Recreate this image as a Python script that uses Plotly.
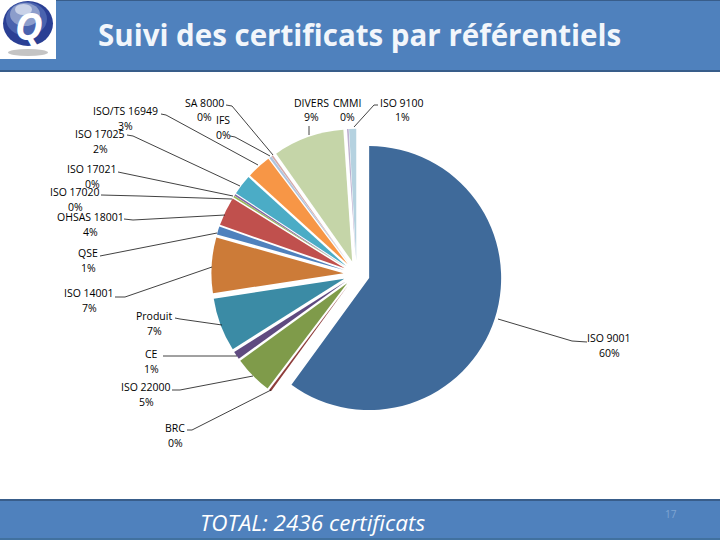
import plotly.graph_objects as go

W, H = 720, 540

referentiels = ["ISO 9001", "BRC", "ISO 22000", "CE", "Produit", "ISO 14001", "QSE", "OHSAS 18001",
                "ISO 17020", "ISO 17021", "ISO 17025", "ISO/TS 16949", "IFS", "SA 8000",
                "DIVERS", "CMMI", "ISO 9100"]
certificats = [1462, 7, 115, 24, 160, 165, 24, 86, 5, 5, 60, 73, 7, 5, 212, 5, 21]
couleurs = ["#3F6A9A", "#8E3D3A", "#7F9B4A", "#5F4A80", "#3B8BA5", "#CC7B38", "#4F81BD", "#C0504D",
            "#9BBB59", "#8064A2", "#4BACC6", "#F79646", "#AFC5DE", "#D3A9A8", "#C5D5A8", "#BDB0CF", "#B5D2E0"]

# Position du texte (centre, en pixels) : nom x, nom y
pos_labels = {
    "ISO 9001": (609, 338), "BRC": (175, 428), "ISO 22000": (146, 387), "CE": (151, 354),
    "Produit": (154, 316), "ISO 14001": (89, 293), "QSE": (88, 253), "OHSAS 18001": (90, 217),
    "ISO 17020": (75, 192), "ISO 17021": (92, 169), "ISO 17025": (100, 134), "ISO/TS 16949": (126, 111),
    "IFS": (223, 120), "SA 8000": (204, 103), "DIVERS": (311, 103), "CMMI": (347, 103), "ISO 9100": (402, 103),
}

# Traits de rappel (pixels)
traits = [
    [(587, 342), (572, 341), (498, 319)],
    [(187, 430), (192, 430), (271, 390)],
    [(172, 390), (180, 390), (253, 376)],
    [(163, 356), (237, 356)],
    [(175, 318), (180, 319), (222, 325)],
    [(115, 297), (125, 297), (212, 267)],
    [(100, 256), (217, 233)],
    [(124, 219), (133, 220), (225, 215)],
    [(101, 195), (140, 196), (232, 199)],
    [(118, 172), (233, 196)],
    [(127, 135), (133, 136), (240, 186)],
    [(161, 114), (166, 115), (258, 165)],
    [(230, 136), (235, 137), (270, 156)],
    [(226, 105), (232, 106), (273, 155)],
    [(309, 126), (309, 135)],
    [(378, 105), (374, 105), (354, 127)],
]


def px(x):
    return x / W


def py(y):
    return 1 - y / H


total = sum(certificats)
cx, cy, demi = 356.6, 274, 145.2

fig = go.Figure(go.Pie(
    labels=referentiels, values=certificats, sort=False, direction="clockwise", rotation=0,
    pull=[0.1] * len(certificats), textinfo="none", hoverinfo="label+percent",
    marker=dict(colors=couleurs, line=dict(width=0)), showlegend=False,
    domain=dict(x=[px(cx - demi), px(cx + demi)], y=[py(cy + demi), py(cy - demi)]),
))

shapes = []


def rect(x0, y0, x1, y1, fill, line=None, lw=0):
    shapes.append(dict(type="rect", xref="paper", yref="paper", x0=px(x0), x1=px(x1), y0=py(y1), y1=py(y0),
                       fillcolor=fill, line=dict(color=line or fill, width=lw), layer="below"))


def rond(x0, y0, x1, y1, fill):
    shapes.append(dict(type="circle", xref="paper", yref="paper", x0=px(x0), x1=px(x1), y0=py(y1), y1=py(y0),
                       fillcolor=fill, line=dict(width=0), layer="below"))


# bandeaux haut et bas
rect(0, 0, 720, 71, "#4F81BD")
rect(0, 70, 720, 72, "#385D8A")
rect(0, 0, 720, 1, "#385D8A")
rect(0, 500, 720, 540, "#4F81BD")
rect(0, 499, 720, 501, "#385D8A")
rect(0, 538, 720, 540, "#41719F")

# logo
rect(0, 0, 56, 59, "#FFFFFF")
rond(8, 49, 48, 56, "#C4C4C4")
rond(3, 1, 53, 46, "#2A3F94")
rond(6, 2, 47, 36, "#4A63AE")
rond(10, 3, 40, 26, "#8C9DCB")
rond(15, 4, 32, 15, "#C9D2E8")

for t in traits:
    chemin = "M " + " L ".join(f"{px(x)} {py(y)}" for x, y in t)
    shapes.append(dict(type="path", path=chemin, xref="paper", yref="paper", line=dict(color="#111111", width=0.8)))

annotations = []


def texte(x, y, s, size, color="#000000", font="Open Sans"):
    annotations.append(dict(x=px(x), y=py(y), xref="paper", yref="paper", text=s, showarrow=False,
                            xanchor="center", yanchor="middle", font=dict(family=font, size=size, color=color)))


for nom, val in zip(referentiels, certificats):
    x, y = pos_labels[nom]
    texte(x, y, nom, 10.5)
    texte(x, y + 14.5, f"{round(100 * val / total)}%", 10.5)

texte(359, 35, "<b>Suivi des certificats par référentiels</b>", 29.5, "#F2F6FB")
texte(29, 25, "<b><i>Q</i></b>", 38, "#FFFFFF")
texte(312, 522, "<i>TOTAL: 2436 certificats</i>", 22.5, "#FFFFFF")
texte(671, 514, "17", 10, "#7FA5D2")

fig.update_layout(width=W, height=H, margin=dict(l=0, r=0, t=0, b=0), paper_bgcolor="white",
                  shapes=shapes, annotations=annotations)
# sans la marge du body la figure tombe pile dans la fenetre
fig.write_html("out.html", config=dict(displayModeBar=False), post_script="document.body.style.margin='0';")
